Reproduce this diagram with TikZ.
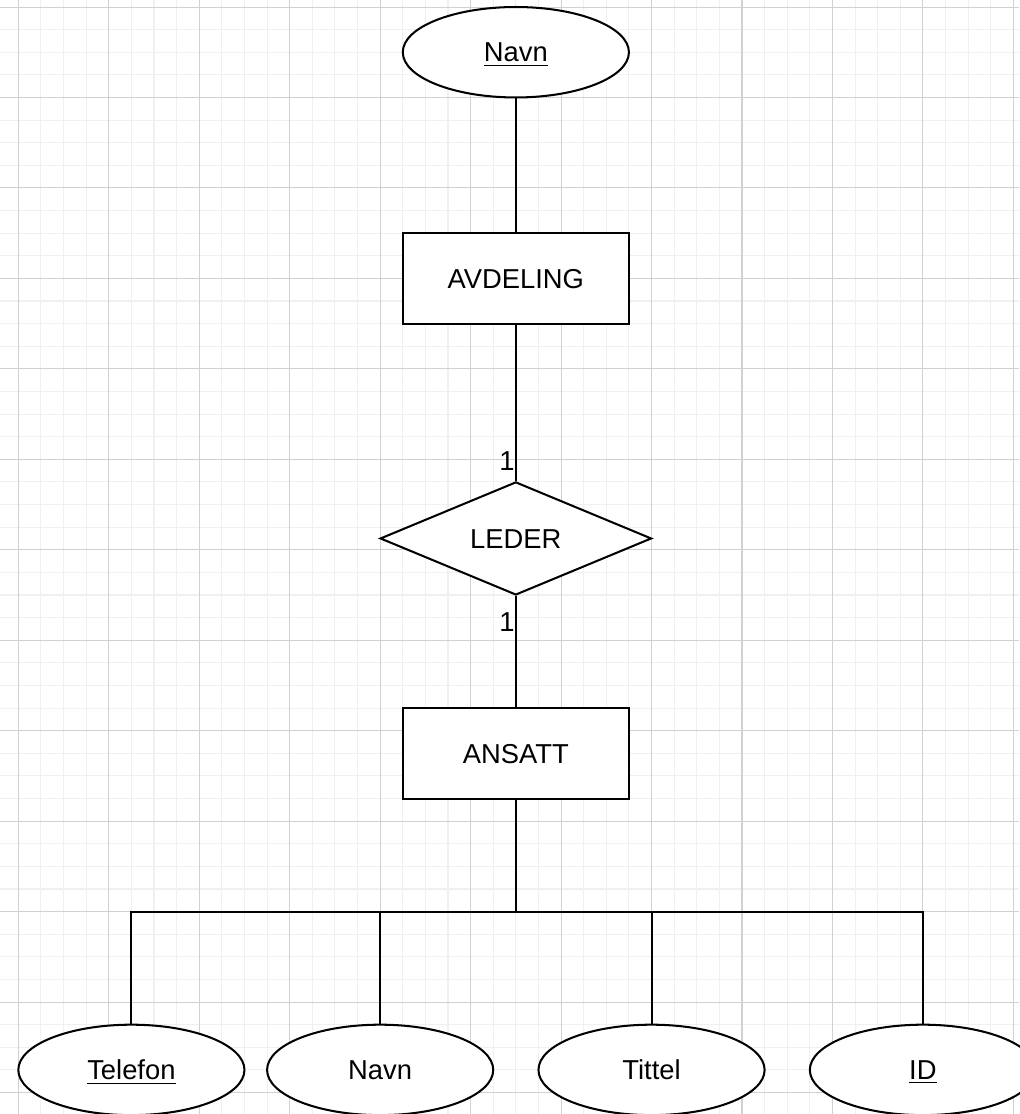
\documentclass[tikz,border=0pt]{standalone}
\usepackage{fontspec}
\setmainfont{Liberation Sans}
\usetikzlibrary{shapes.geometric}
\tikzset{
  shapetext/.style={text height=10pt, text depth=1.4pt},
  entity/.style={draw, fill=white, line width=0.9pt, rectangle,
    minimum width=100pt, minimum height=40pt, inner sep=0pt, shapetext},
  attr/.style={draw, fill=white, line width=0.9pt, ellipse,
    minimum width=100pt, minimum height=40pt, inner sep=0pt, shapetext},
  rel/.style={draw, fill=white, line width=0.9pt, diamond, aspect=2.4,
    minimum width=120pt, minimum height=50pt, inner sep=0pt, shapetext},
  link/.style={line width=0.9pt},
  card/.style={inner sep=0pt, anchor=east},
  minorgrid/.style={line width=0.45pt, black!6},
  majorgrid/.style={line width=0.45pt, black!18},
}
% key attribute: underlined name
\newcommand{\keyattr}[1]{\underline{#1}}
\begin{document}
\begin{tikzpicture}[x=1pt, y=-1pt, font=\fontsize{12.1}{14}\selectfont]
  % canvas and background grid
  \useasboundingbox (-8.1,-3.1) rectangle (442.5,489.5);
  \fill[white] (-8.1,-3.1) rectangle (442.5,489.5);
  \foreach \x in {0,10,...,440} \draw[minorgrid] (\x,-3.1) -- (\x,489.5);
  \foreach \y in {0,10,...,480} \draw[minorgrid] (-8.1,\y) -- (442.5,\y);
  \foreach \x in {0,40,...,440} \draw[majorgrid] (\x,-3.1) -- (\x,489.5);
  \foreach \y in {0,40,...,480} \draw[majorgrid] (-8.1,\y) -- (442.5,\y);

  % entities, relationship and attributes
  \node[attr]   (avdnavn) at (220,20)  {\keyattr{Navn}};
  \node[entity] (avd)     at (220,120) {AVDELING};
  \node[rel]    (leder)   at (220,235) {LEDER};
  \node[entity] (ans)     at (220,330) {ANSATT};
  \coordinate (bus) at (220,400);
  \node[attr] (tlf)  at (50,470)  {\keyattr{Telefon}};
  \node[attr] (navn) at (160,470) {Navn};
  \node[attr] (tit)  at (280,470) {Tittel};
  \node[attr] (id)   at (400,470) {\keyattr{ID}};

  % connectors
  \draw[link] (avdnavn.south) -- (avd.north);
  \draw[link] (avd.south) -- (leder.north);
  \draw[link] (leder.south) -- (ans.north);
  \draw[link] (ans.south) -- (bus);
  \draw[link] (tlf.north) |- (bus);
  \draw[link] (navn.north) |- (bus);
  \draw[link] (tit.north) |- (bus);
  \draw[link] (id.north) |- (bus);

  % cardinalities
  \node[card] (c1) at (219.6,201) {1};
  \node[card] (c2) at (219.6,272) {1};
\end{tikzpicture}
\end{document}
